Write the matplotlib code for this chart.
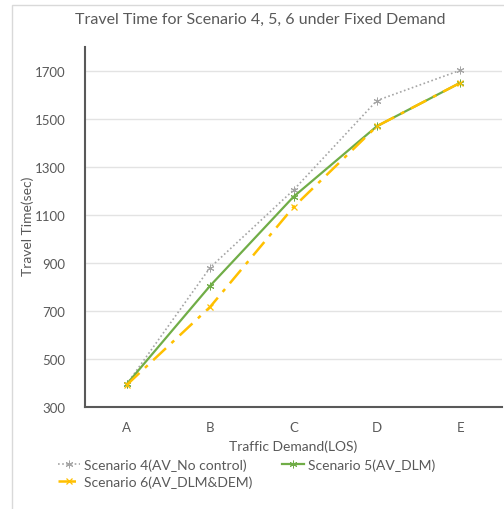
import matplotlib
matplotlib.use("Agg")
import matplotlib.pyplot as plt
from matplotlib.patches import Rectangle

plt.rcParams['font.family'] = ['Lato', 'DejaVu Sans']

categories = ["A", "B", "C", "D", "E"]
scenario4 = [395, 881, 1204, 1577, 1703]
scenario5 = [395, 805, 1176, 1470, 1651]
scenario6 = [392, 717, 1133, 1470, 1651]
yticks = [300, 500, 700, 900, 1100, 1300, 1500, 1700]

text_color = "#595959"

fig = plt.figure(figsize=(5.04, 5.10), dpi=100)
ax = fig.add_axes([85 / 504, 1 - 408 / 510, (502 - 85) / 504, (408 - 48) / 510])

# outer chart-area border
fig.patches.append(Rectangle((12 / 504, -0.01), 1.0, 1 - 6 / 510 + 0.01,
                             transform=fig.transFigure, fill=False,
                             edgecolor="#d9d9d9", linewidth=1.0, zorder=0))

x = list(range(len(categories)))
asterisk = (6, 2, 0)

h4, = ax.plot(x, scenario4, color="#a5a5a5", linestyle=(0, (1, 1.5)), linewidth=1.2,
              marker=asterisk, markersize=5.5, markeredgewidth=0.7,
              label="Scenario 4(AV_No control)", zorder=3)
h5, = ax.plot(x, scenario5, color="#70ad47", linestyle="-", linewidth=1.6,
              marker=asterisk, markersize=5.5, markeredgewidth=0.7,
              label="Scenario 5(AV_DLM)", zorder=4)
h6, = ax.plot(x, scenario6, color="#ffc000", linestyle=(0, (7, 3, 1.5, 3)), linewidth=1.8,
              marker="x", markersize=5, markeredgewidth=0.9,
              label="Scenario 6(AV_DLM&DEM)", zorder=5)

ax.set_xlim(-0.5, len(categories) - 0.5)
ax.set_ylim(300, 1800)
ax.set_xticks(x)
ax.set_xticklabels(categories)
ax.set_yticks(yticks)

ax.grid(axis="y", color="#e3e3e3", linewidth=1.0)
ax.set_axisbelow(True)
for side in ("top", "right"):
    ax.spines[side].set_visible(False)
for side in ("left", "bottom"):
    ax.spines[side].set_color("#595959")
    ax.spines[side].set_linewidth(1.5)

ax.tick_params(axis="both", length=0, labelsize=9.5, colors=text_color)
ax.tick_params(axis="x", pad=10)
ax.tick_params(axis="y", pad=14)

fig.text(260 / 504, 1 - 20 / 510, "Travel Time for Scenario 4, 5, 6 under Fixed Demand",
         fontsize=11.5, color=text_color, ha="center", va="center")
fig.text(293 / 504, 1 - 447 / 510, "Traffic Demand(LOS)",
         fontsize=10, color=text_color, ha="center", va="center")
fig.text(28 / 504, 1 - 226 / 510, "Travel Time(sec)", rotation=90,
         fontsize=10, color=text_color, ha="center", va="center")

fig.legend(handles=[h4, h6, h5], ncol=2, frameon=False,
           loc="upper left", bbox_to_anchor=(58 / 504, 1 - 459 / 510),
           fontsize=10, labelcolor=text_color, handlelength=1.6,
           handletextpad=0.3, columnspacing=2.1, labelspacing=0.35,
           borderpad=0, borderaxespad=0)

fig.savefig("out.png", dpi=100)
